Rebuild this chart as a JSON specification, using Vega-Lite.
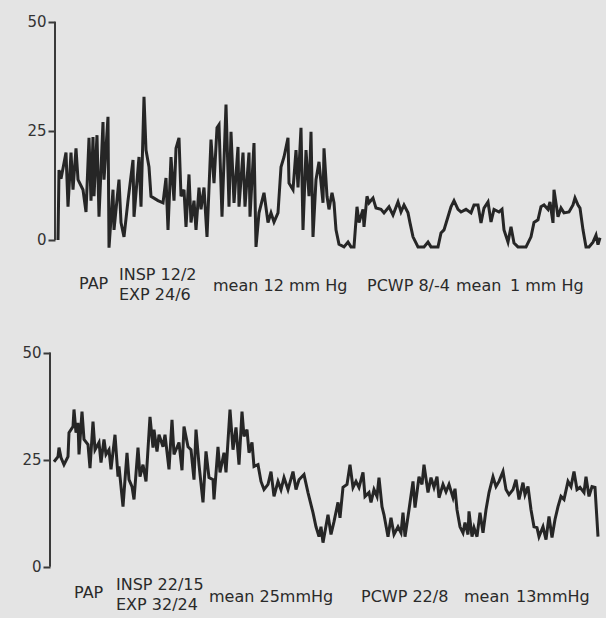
{
  "$schema": "https://vega.github.io/schema/vega-lite/v6.json",
  "autosize": {"type": "pad"},
  "padding": {"left": 21, "top": 13, "right": 0, "bottom": 0},
  "background": "#e4e4e4",
  "bounds": "flush",
  "spacing": 43,
  "config": {
    "view": {"stroke": null},
    "axisY": {
      "domain": false, "grid": false, "ticks": true, "tickSize": 7, "tickWidth": 2, "tickColor": "#3a3a3a",
      "labelFontSize": 15, "labelColor": "#333333", "labelFont": "DejaVu Sans", "labelPadding": 2, "title": null
    }
  },
  "datasets": {
    "top": [
      {"t":7,"v":0},{"t":8,"v":16},{"t":10,"v":14},{"t":15,"v":20},{"t":17,"v":7.6},{"t":20,"v":20},{"t":22,"v":11.5},{"t":25,"v":21},{"t":27,"v":13.8},{"t":32,"v":11.5},{"t":35,"v":6.4},{"t":38,"v":23.4},{"t":40,"v":9},{"t":42,"v":23.6},{"t":43,"v":10},{"t":46,"v":24},{"t":48,"v":5.3},{"t":52,"v":27},{"t":53,"v":13.8},{"t":57,"v":28.2},{"t":58,"v":-1.8},{"t":62,"v":11.5},{"t":63,"v":2.3},{"t":68,"v":13.8},{"t":70,"v":4},{"t":73,"v":0.7},{"t":77,"v":9},{"t":82,"v":18.3},{"t":83,"v":5.3},{"t":88,"v":19},{"t":90,"v":7.6},{"t":93,"v":32.8},{"t":95,"v":20.6},{"t":98,"v":16.7},{"t":100,"v":10},{"t":107,"v":9},{"t":112,"v":8.5},{"t":115,"v":14.2},{"t":117,"v":2.3},{"t":120,"v":19},{"t":123,"v":9},{"t":125,"v":21},{"t":128,"v":23.4},{"t":130,"v":10},{"t":133,"v":11.5},{"t":135,"v":3},{"t":138,"v":15},{"t":140,"v":4},{"t":143,"v":9},{"t":145,"v":2.3},{"t":148,"v":12},{"t":150,"v":7},{"t":153,"v":12},{"t":156,"v":0.7},{"t":160,"v":23},{"t":163,"v":13},{"t":166,"v":25.7},{"t":168,"v":26.4},{"t":171,"v":5.3},{"t":175,"v":31},{"t":178,"v":7.6},{"t":180,"v":24.8},{"t":183,"v":8.5},{"t":187,"v":21.3},{"t":188,"v":7.6},{"t":192,"v":20},{"t":194,"v":7.6},{"t":198,"v":20},{"t":199,"v":5.3},{"t":203,"v":22.2},{"t":205,"v":-1.6},{"t":208,"v":6.2},{"t":213,"v":10.8},{"t":217,"v":4},{"t":220,"v":6.2},{"t":223,"v":4.1},{"t":227,"v":6.2},{"t":230,"v":16.7},{"t":233,"v":19},{"t":237,"v":23.4},{"t":238,"v":13},{"t":242,"v":11.5},{"t":245,"v":20.6},{"t":247,"v":12},{"t":250,"v":25.7},{"t":252,"v":2.3},{"t":255,"v":20.6},{"t":258,"v":10},{"t":260,"v":24.8},{"t":262,"v":0.7},{"t":265,"v":13.8},{"t":268,"v":17.9},{"t":272,"v":8.5},{"t":273,"v":21},{"t":276,"v":10},{"t":278,"v":7},{"t":281,"v":10.8},{"t":283,"v":8.5},{"t":285,"v":2.3},{"t":288,"v":-1},{"t":293,"v":-1.6},{"t":297,"v":-0.5},{"t":300,"v":-1.6},{"t":303,"v":-1.6},{"t":306,"v":7.6},{"t":308,"v":4},{"t":312,"v":7},{"t":313,"v":3},{"t":316,"v":10},{"t":318,"v":8.5},{"t":322,"v":9.6},{"t":325,"v":7.3},{"t":330,"v":7},{"t":333,"v":6.2},{"t":338,"v":7.6},{"t":342,"v":5.7},{"t":347,"v":8.7},{"t":350,"v":6.4},{"t":353,"v":8},{"t":357,"v":6.2},{"t":359,"v":3.9},{"t":362,"v":0.7},{"t":367,"v":-1.6},{"t":373,"v":-1.6},{"t":377,"v":-0.5},{"t":380,"v":-1.6},{"t":387,"v":-1.6},{"t":390,"v":1.6},{"t":393,"v":2.3},{"t":397,"v":5.3},{"t":400,"v":7.6},{"t":403,"v":9},{"t":407,"v":7},{"t":410,"v":6.4},{"t":415,"v":7},{"t":420,"v":6.2},{"t":423,"v":8},{"t":427,"v":8},{"t":430,"v":3.9},{"t":433,"v":7.3},{"t":437,"v":8.7},{"t":440,"v":4.1},{"t":443,"v":7},{"t":448,"v":6.4},{"t":451,"v":7},{"t":453,"v":2.3},{"t":457,"v":-0.5},{"t":460,"v":3},{"t":463,"v":-0.7},{"t":467,"v":-1.6},{"t":470,"v":-1.6},{"t":475,"v":-1.6},{"t":480,"v":0.7},{"t":483,"v":4},{"t":487,"v":4.6},{"t":490,"v":7.6},{"t":493,"v":8},{"t":497,"v":7},{"t":499,"v":8.7},{"t":502,"v":3.9},{"t":503,"v":11.5},{"t":507,"v":5.3},{"t":510,"v":7.3},{"t":513,"v":6.2},{"t":518,"v":6.4},{"t":522,"v":8},{"t":524,"v":9.6},{"t":527,"v":8},{"t":529,"v":7.3},{"t":532,"v":2.3},{"t":535,"v":-1.6},{"t":538,"v":-1.6},{"t":542,"v":-0.5},{"t":545,"v":1.1},{"t":547,"v":-1.1},{"t":549,"v":0.5}
    ],
    "bottom": [
      {"t":3,"v":24.5},{"t":7,"v":25.7},{"t":8,"v":27.8},{"t":10,"v":25.5},{"t":13,"v":23.8},{"t":17,"v":25.7},{"t":18,"v":31.3},{"t":22,"v":32.7},{"t":23,"v":36.7},{"t":25,"v":31.3},{"t":27,"v":33.6},{"t":28,"v":26.2},{"t":31,"v":36.2},{"t":33,"v":29.7},{"t":37,"v":28.5},{"t":39,"v":23},{"t":42,"v":33.9},{"t":44,"v":27.3},{"t":48,"v":29},{"t":50,"v":24.3},{"t":53,"v":29.7},{"t":55,"v":26.2},{"t":58,"v":27.3},{"t":60,"v":22.7},{"t":64,"v":30.8},{"t":67,"v":21},{"t":68,"v":23.4},{"t":72,"v":14},{"t":76,"v":26.6},{"t":78,"v":20.3},{"t":81,"v":18.7},{"t":83,"v":15.7},{"t":87,"v":27.8},{"t":89,"v":21},{"t":92,"v":23.8},{"t":95,"v":19.9},{"t":99,"v":35},{"t":102,"v":27.8},{"t":103,"v":32},{"t":106,"v":26.9},{"t":108,"v":30.8},{"t":112,"v":28},{"t":114,"v":30.8},{"t":118,"v":22.7},{"t":121,"v":34.3},{"t":123,"v":26.2},{"t":128,"v":29},{"t":131,"v":22.5},{"t":133,"v":32.7},{"t":137,"v":28},{"t":140,"v":27.3},{"t":143,"v":20.3},{"t":145,"v":32},{"t":148,"v":23.8},{"t":152,"v":15},{"t":155,"v":26.9},{"t":158,"v":20.8},{"t":162,"v":20.3},{"t":163,"v":15.7},{"t":167,"v":28},{"t":169,"v":22},{"t":173,"v":26.6},{"t":175,"v":22},{"t":179,"v":36.7},{"t":182,"v":27.3},{"t":185,"v":32.5},{"t":188,"v":23.8},{"t":191,"v":36.2},{"t":193,"v":30.4},{"t":196,"v":32},{"t":198,"v":26.6},{"t":201,"v":29},{"t":203,"v":23.4},{"t":207,"v":23.8},{"t":210,"v":19.9},{"t":213,"v":18},{"t":217,"v":19.2},{"t":220,"v":22.2},{"t":223,"v":16.4},{"t":227,"v":19.9},{"t":230,"v":18},{"t":233,"v":20.8},{"t":237,"v":18},{"t":242,"v":22.2},{"t":245,"v":18},{"t":248,"v":20.3},{"t":253,"v":21.5},{"t":257,"v":17.3},{"t":262,"v":12.6},{"t":265,"v":9.3},{"t":268,"v":7},{"t":270,"v":9.3},{"t":272,"v":5.6},{"t":277,"v":12.1},{"t":280,"v":7.5},{"t":283,"v":10.5},{"t":287,"v":15},{"t":289,"v":11.4},{"t":292,"v":18.5},{"t":296,"v":19.2},{"t":299,"v":23.8},{"t":302,"v":18.5},{"t":305,"v":19.9},{"t":308,"v":18.5},{"t":312,"v":22},{"t":314,"v":16.4},{"t":318,"v":17.3},{"t":320,"v":15},{"t":323,"v":18},{"t":326,"v":16.4},{"t":328,"v":20.8},{"t":331,"v":14},{"t":333,"v":12.1},{"t":337,"v":7},{"t":340,"v":11.4},{"t":343,"v":7.5},{"t":347,"v":9.3},{"t":350,"v":7.9},{"t":352,"v":12.6},{"t":354,"v":7},{"t":358,"v":13.3},{"t":362,"v":19.9},{"t":364,"v":13.8},{"t":368,"v":21},{"t":371,"v":19.2},{"t":373,"v":23.8},{"t":377,"v":17.3},{"t":380,"v":20.8},{"t":383,"v":18.5},{"t":386,"v":21},{"t":388,"v":16.1},{"t":392,"v":19.2},{"t":395,"v":17.5},{"t":398,"v":19.2},{"t":402,"v":16.1},{"t":404,"v":18.2},{"t":406,"v":13.3},{"t":409,"v":9.3},{"t":412,"v":7.9},{"t":414,"v":10.3},{"t":417,"v":7.5},{"t":418,"v":12.9},{"t":421,"v":7},{"t":423,"v":9.1},{"t":426,"v":7},{"t":429,"v":12.6},{"t":432,"v":7.9},{"t":435,"v":13.3},{"t":438,"v":17.3},{"t":442,"v":21},{"t":445,"v":18.7},{"t":448,"v":19.9},{"t":452,"v":22.2},{"t":455,"v":18},{"t":458,"v":16.8},{"t":462,"v":18},{"t":465,"v":20.3},{"t":468,"v":15.7},{"t":472,"v":19.6},{"t":474,"v":16.8},{"t":477,"v":18.7},{"t":480,"v":13.3},{"t":483,"v":9.3},{"t":486,"v":9.1},{"t":488,"v":7},{"t":492,"v":9.3},{"t":495,"v":6.3},{"t":498,"v":11.7},{"t":501,"v":6.8},{"t":504,"v":11},{"t":507,"v":14},{"t":510,"v":16.4},{"t":513,"v":15.7},{"t":517,"v":19.9},{"t":520,"v":18.7},{"t":523,"v":22.2},{"t":526,"v":18},{"t":529,"v":18.5},{"t":533,"v":17.3},{"t":535,"v":21},{"t":538,"v":16.4},{"t":541,"v":18.7},{"t":544,"v":18.5},{"t":547,"v":7}
    ],
    "topLabels": [
      {"t":28,"v":-10.1,"label":"PAP"},
      {"t":68,"v":-8.0,"label":"INSP 12/2"},
      {"t":68,"v":-12.6,"label":"EXP  24/6"},
      {"t":162,"v":-10.6,"label":"mean  12 mm Hg"},
      {"t":316,"v":-10.6,"label":"PCWP  8/-4"},
      {"t":405,"v":-10.6,"label":"mean"},
      {"t":459,"v":-10.6,"label":"1 mm Hg"}
    ],
    "bottomLabels": [
      {"t":23,"v":-6.1,"label":"PAP"},
      {"t":65,"v":-4.2,"label":"INSP 22/15"},
      {"t":65,"v":-8.9,"label":"EXP 32/24"},
      {"t":158,"v":-7.0,"label":"mean  25mmHg"},
      {"t":310,"v":-7.2,"label":"PCWP  22/8"},
      {"t":413,"v":-7.2,"label":"mean"},
      {"t":465,"v":-7.2,"label":"13mmHg"}
    ],
    "one": [{}]
  },
  "vconcat": [
    {
      "width": 555,
      "height": 288,
      "layer": [
        {
          "data": {"name": "top"},
          "mark": {"type": "line", "color": "#262626", "strokeWidth": 3, "clip": false},
          "encoding": {
            "x": {"field": "t", "type": "quantitative", "scale": {"domain": [0, 555], "nice": false, "zero": false}, "axis": null},
            "y": {"field": "v", "type": "quantitative", "scale": {"domain": [-14, 52], "nice": false, "zero": false}, "axis": {"offset": -4, "values": [0, 25, 50]}}
          }
        },
        {
          "data": {"name": "one"},
          "mark": {"type": "rule", "color": "#3a3a3a", "strokeWidth": 2},
          "encoding": {
            "x": {"datum": 4, "type": "quantitative"},
            "y": {"datum": 0, "type": "quantitative"},
            "y2": {"datum": 50}
          }
        },
        {
          "data": {"name": "topLabels"},
          "mark": {"type": "text", "align": "left", "baseline": "middle", "font": "DejaVu Sans", "fontSize": 16, "color": "#2a2a2a"},
          "encoding": {
            "x": {"field": "t", "type": "quantitative"},
            "y": {"field": "v", "type": "quantitative"},
            "text": {"field": "label"}
          }
        }
      ]
    },
    {
      "width": 555,
      "height": 274,
      "layer": [
        {
          "data": {"name": "bottom"},
          "mark": {"type": "line", "color": "#262626", "strokeWidth": 3, "clip": false},
          "encoding": {
            "x": {"field": "t", "type": "quantitative", "scale": {"domain": [0, 555], "nice": false, "zero": false}, "axis": null},
            "y": {"field": "v", "type": "quantitative", "scale": {"domain": [-12, 52], "nice": false, "zero": false}, "axis": {"offset": 1, "values": [0, 25, 50]}}
          }
        },
        {
          "data": {"name": "one"},
          "mark": {"type": "rule", "color": "#3a3a3a", "strokeWidth": 2},
          "encoding": {
            "x": {"datum": -1, "type": "quantitative"},
            "y": {"datum": 0, "type": "quantitative"},
            "y2": {"datum": 50}
          }
        },
        {
          "data": {"name": "bottomLabels"},
          "mark": {"type": "text", "align": "left", "baseline": "middle", "font": "DejaVu Sans", "fontSize": 16, "color": "#2a2a2a"},
          "encoding": {
            "x": {"field": "t", "type": "quantitative"},
            "y": {"field": "v", "type": "quantitative"},
            "text": {"field": "label"}
          }
        }
      ]
    }
  ]
}
